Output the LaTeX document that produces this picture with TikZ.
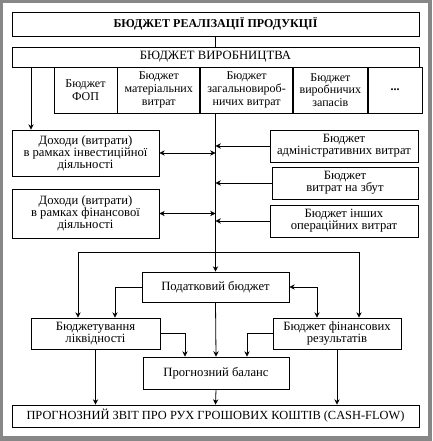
\documentclass[tikz,border=0pt]{standalone}
\usepackage{fontspec}
\setmainfont{Liberation Serif}
\usetikzlibrary{positioning, calc, arrows.meta}
\definecolor{frameGray}{RGB}{135,135,135}

\begin{document}
\begin{tikzpicture}[
  x=0.75pt, y=-0.75pt,
  box/.style={draw, line width=0.6pt, align=center, inner sep=1pt, font=\fontsize{9.5}{9}\selectfont},
  cell/.style={box, font=\fontsize{9}{9.5}\selectfont},
  sz/.style 2 args={minimum width=#1*0.75pt, minimum height=#2*0.75pt},
  link/.style={line width=0.6pt},
  arr/.style={link, -{Stealth[length=4pt,width=4pt]}},
  dbl/.style={link, {Stealth[length=4pt,width=4pt]}-{Stealth[length=4pt,width=4pt]}},
  node distance=0pt
]
  % frame
  \fill[frameGray] (0,0) rectangle (432,441);
  \fill[white] (3,3) rectangle (428,436);
  \useasboundingbox (0,0) rectangle (432,441);

  % top budgets
  \node[box, sz={407}{24}, font=\fontsize{9}{9.5}\selectfont\bfseries] (sales) at (215.5,24) {БЮДЖЕТ РЕАЛІЗАЦІЇ ПРОДУКЦІЇ};
  \node[box, sz={407}{20}] (prod) at (215.5,57) {БЮДЖЕТ ВИРОБНИЦТВА};
  \node[cell, sz={63}{46}] (fop) at (85.5,90) {Бюджет\\ФОП};
  \node[cell, sz={82}{46}, right=of fop] (mat) {Бюджет\\матеріальних\\витрат};
  \node[cell, sz={92}{46}, right=of mat] (ovh) {Бюджет\\загальновироб-\\ничих витрат};
  \node[cell, sz={74}{46}, right=of ovh] (stock) {Бюджет\\виробничих\\запасів};
  \node[cell, sz={54}{46}, right=of stock, font=\fontsize{9}{9.5}\selectfont\bfseries] (more) {...};

  % side budgets
  \node[box, sz={147}{46}] (inv) at (85.5,153) {Доходи (витрати)\\в рамках інвестиційної\\діяльності};
  \node[box, sz={147}{49}] (fin) at (85.5,213.5) {Доходи (витрати)\\в рамках фінансової\\діяльності};
  \node[box, sz={148}{32}] (adm) at (344,146) {Бюджет\\адміністративних витрат};
  \node[box, sz={146}{32}] (sell) at (345,183) {Бюджет\\витрат на збут};
  \node[box, sz={148}{32}] (oper) at (344,221) {Бюджет інших\\операційних витрат};

  % financial budgets
  \node[box, sz={147}{30}] (tax) at (215.5,287) {Податковий бюджет};
  \node[box, sz={129}{31}] (liq) at (95.5,333.5) {Бюджетування\\ліквідності};
  \node[box, sz={128}{31}] (res) at (337,333.5) {Бюджет фінансових\\результатів};
  \node[box, sz={146}{32}] (bal) at (216,373) {Прогнозний баланс};
  \node[box, sz={407}{22}, font=\fontsize{9.3}{9.5}\selectfont] (cash) at (215.5,416) {ПРОГНОЗНИЙ ЗВІТ ПРО РУХ ГРОШОВИХ КОШТІВ (CASH-FLOW)};

  \coordinate (spine) at (tax.north |- ovh.south);
  \coordinate (tapL) at (31,67);
  \coordinate (fork) at (215.5,252);

  \draw[link] (sales) -- (prod);
  \draw[arr] (tapL) -- (tapL |- inv.north);
  \draw[arr] (spine) -- (tax.north);
  \draw[arr] (adm.west) -- (adm.west -| spine);
  \draw[arr] (sell.west) -- (sell.west -| spine);
  \draw[arr] (oper.west) -- (oper.west -| spine);
  \draw[dbl] (inv.east) -- (inv.east -| spine);
  \draw[dbl] (fin.east) -- (fin.east -| spine);
  \draw[arr] (fork) -| ($(liq.north)+(-17.5,0)$);
  \draw[arr] (fork) -| ($(res.north)+(22,0)$);
  \draw[arr] (tax.west) -| ($(liq.north)+(19.5,0)$);
  \draw[dbl] (tax.east) -| ($(res.north)+(-20,0)$);
  \draw[arr] (tax.south) -- (bal.north);
  \draw[arr] (liq.east) -| ($(bal.north)+(-31,0)$);
  \draw[arr] (res.west) -| ($(bal.north)+(31,0)$);
  \draw[arr] (liq.south) -- (liq.south |- cash.north);
  \draw[arr] (bal.south) -- (cash.north);
  \draw[arr] (res.south) -- (res.south |- cash.north);
\end{tikzpicture}
\end{document}
